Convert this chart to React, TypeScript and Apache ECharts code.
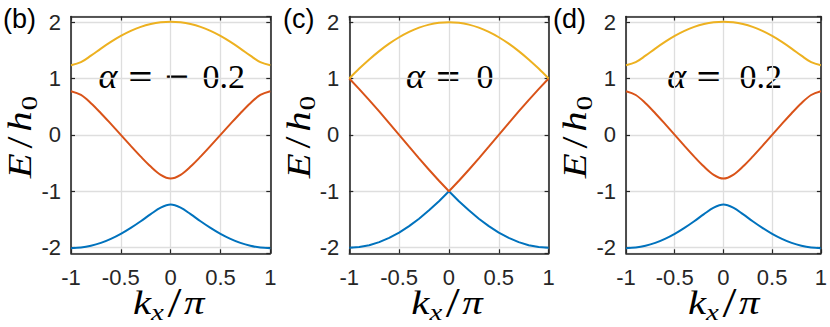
import React, { useEffect, useRef } from "react";
import * as echarts from "echarts";

// ---- data ----
const kx = [-1, -0.9, -0.8, -0.7, -0.6, -0.5, -0.4, -0.3, -0.2, -0.1, 0, 0.1, 0.2, 0.3, 0.4, 0.5, 0.6, 0.7, 0.8, 0.9, 1];

// alpha = -0.2 and alpha = 0.2 (identical spectra)
const lowerBandA02 = [-2.009, -1.998, -1.967, -1.916, -1.844, -1.755, -1.649, -1.531, -1.405, -1.29, -1.235, -1.29, -1.405, -1.531, -1.649, -1.755, -1.844, -1.916, -1.967, -1.998, -2.009];
const middleBandA02 = [0.774, 0.708, 0.562, 0.385, 0.195, 0, -0.195, -0.385, -0.562, -0.708, -0.774, -0.708, -0.562, -0.385, -0.195, 0, 0.195, 0.385, 0.562, 0.708, 0.774];
const upperBandA02 = [1.235, 1.29, 1.405, 1.531, 1.649, 1.755, 1.844, 1.916, 1.967, 1.998, 2.009, 1.998, 1.967, 1.916, 1.844, 1.755, 1.649, 1.531, 1.405, 1.29, 1.235];

// alpha = 0
const lowerBandA0 = [-2, -1.989, -1.956, -1.902, -1.827, -1.732, -1.618, -1.486, -1.338, -1.176, -1, -1.176, -1.338, -1.486, -1.618, -1.732, -1.827, -1.902, -1.956, -1.989, -2];
const middleBandA0 = [1, 0.813, 0.618, 0.416, 0.209, 0, -0.209, -0.416, -0.618, -0.813, -1, -0.813, -0.618, -0.416, -0.209, 0, 0.209, 0.416, 0.618, 0.813, 1];
const upperBandA0 = [1, 1.176, 1.338, 1.486, 1.618, 1.732, 1.827, 1.902, 1.956, 1.989, 2, 1.989, 1.956, 1.902, 1.827, 1.732, 1.618, 1.486, 1.338, 1.176, 1];

const panelTags = ["(b)", "(c)", "(d)"];
const xTickStep = 0.5;
const xRange = [-1, 1];
const yRange = [-2.1, 2.1];

// ---- layout / style ----
const COLORS = ["#0072BD", "#D95319", "#EDB120"];
const AXIS_COLOR = "#262626";
const GRID_TOP = 16.5;
const GRID_H = 236.8;
const GRID_LEFTS = [71, 349.3, 626];
const GRID_W = 199.3;

const SERIF = "'Liberation Serif', 'Times New Roman', serif";
const SANS = "'Liberation Sans', Arial, Helvetica, sans-serif";
const OPSERIF = "'DejaVu Serif', serif";

let measureCtx: CanvasRenderingContext2D | null = null;
function measure(text: string, font: string) {
  if (!measureCtx) measureCtx = document.createElement("canvas").getContext("2d");
  measureCtx!.font = font;
  return measureCtx!.measureText(text).width;
}

type Part = { t: string; size: number; italic?: boolean; family?: string; dy?: number; gap?: number };

function mathGroup(parts: Part[], cx: number, cy: number, targetWidth: number, rotation = 0) {
  const widths = parts.map((p) =>
    measure(p.t, `${p.italic ? "italic " : ""}${p.size}px ${p.family || SERIF}`)
  );
  const total = widths.reduce((a, b) => a + b, 0) + parts.reduce((a, p) => a + (p.gap || 0), 0);
  let x = -total / 2;
  const children: any[] = [];
  parts.forEach((p, i) => {
    x += p.gap || 0;
    children.push({
      type: "text",
      x,
      y: p.dy || 0,
      style: {
        text: p.t,
        fontSize: p.size,
        fontFamily: p.family || SERIF,
        fontStyle: p.italic ? "italic" : "normal",
        fill: "#000",
        textAlign: "left",
        textVerticalAlign: "middle",
      },
    });
    x += widths[i];
  });
  const s = total > 0 ? Math.min(1.2, targetWidth / total) : 1;
  return { type: "group", x: cx, y: cy, rotation, scaleX: s, scaleY: 1, children, silent: true };
}

function centeredGroup(items: { t: string; dx: number; italic?: boolean; family?: string; size: number }[], cx: number, cy: number) {
  return {
    type: "group",
    x: cx,
    y: cy,
    silent: true,
    children: items.map((it) => ({
      type: "text",
      x: it.dx,
      y: 0,
      style: {
        text: it.t,
        fontSize: it.size,
        fontFamily: it.family || SERIF,
        fontStyle: it.italic ? "italic" : "normal",
        fill: "#000",
        textAlign: "center",
        textVerticalAlign: "middle",
      },
    })),
  };
}

export default function App() {
  const ref = useRef<HTMLDivElement>(null);

  useEffect(() => {
    if (!ref.current) return;
    const chart = echarts.init(ref.current, undefined, { renderer: "svg" });

    const panels = [
      { bands: [lowerBandA02, middleBandA02, upperBandA02], smooth: [true, true, true] },
      { bands: [lowerBandA0, middleBandA0, upperBandA0], smooth: [false, false, true] },
      { bands: [lowerBandA02, middleBandA02, upperBandA02], smooth: [true, true, true] },
    ];

    const grids: any[] = [];
    const xAxes: any[] = [];
    const yAxes: any[] = [];
    const series: any[] = [];
    const graphics: any[] = [];

    const lineAxis = { show: true, onZero: false, lineStyle: { color: AXIS_COLOR, width: 1.6 } };
    const tick = { show: true, inside: true, length: 4, lineStyle: { color: AXIS_COLOR, width: 1.2 } };

    panels.forEach((p, i) => {
      const left = GRID_LEFTS[i];
      grids.push({ left, top: GRID_TOP, width: GRID_W, height: GRID_H, show: false });
      const xBase = { type: "value", gridIndex: i, min: xRange[0], max: xRange[1], interval: xTickStep };
      xAxes.push({
        ...xBase,
        position: "bottom",
        axisLine: lineAxis,
        axisTick: tick,
        axisLabel: { show: true, margin: 13, fontSize: 22, fontFamily: SANS, color: AXIS_COLOR },
        splitLine: { show: true, lineStyle: { color: "#dedede", width: 1.3 } },
      });
      xAxes.push({
        ...xBase,
        position: "top",
        axisLine: lineAxis,
        axisTick: tick,
        axisLabel: { show: false },
        splitLine: { show: false },
      });
      const yBase = { type: "value", gridIndex: i, min: yRange[0], max: yRange[1], splitNumber: 4 };
      const fmt = (v: number) => (Math.abs(v - Math.round(v)) < 1e-9 ? String(Math.round(v)) : "");
      yAxes.push({
        ...yBase,
        position: "left",
        axisLine: lineAxis,
        axisTick: tick,
        axisLabel: { show: true, margin: 10, fontSize: 22, fontFamily: SANS, color: AXIS_COLOR, formatter: fmt, showMinLabel: false, showMaxLabel: false },
        splitLine: { show: true, lineStyle: { color: "#dedede", width: 1.3 } },
      });
      yAxes.push({
        ...yBase,
        position: "right",
        axisLine: lineAxis,
        axisTick: tick,
        axisLabel: { show: false },
        splitLine: { show: false },
      });

      p.bands.forEach((band, b) => {
        series.push({
          type: "line",
          xAxisIndex: 2 * i,
          yAxisIndex: 2 * i,
          data: kx.map((x, j) => [x, band[j]]),
          showSymbol: false,
          symbol: "none",
          smooth: p.smooth[b] ? 0.35 : false,
          lineStyle: { color: COLORS[b], width: 2 },
          itemStyle: { color: COLORS[b] },
          silent: true,
          z: 3,
        });
      });

      const cx = left + GRID_W / 2;
      // panel tag
      const tagX = [3, 283, 553][i];
      graphics.push({
        type: "text",
        x: tagX,
        y: 19,
        silent: true,
        style: { text: panelTags[i], fontSize: 27, fontFamily: SANS, fill: "#000", textAlign: "left", textVerticalAlign: "middle" },
      });
      // alpha annotation
      const aY = 76;
      if (i === 0) {
        graphics.push(
          centeredGroup(
            [
              { t: "α", dx: -62.8, italic: true, size: 36 },
              { t: "=", dx: -30.3, family: OPSERIF, size: 32 },
              { t: "−", dx: 6.5, family: OPSERIF, size: 32 },
              { t: "0.2", dx: 53.1, size: 34 },
            ],
            cx,
            aY
          )
        );
      } else if (i === 1) {
        graphics.push(
          centeredGroup(
            [
              { t: "α", dx: -33.5, italic: true, size: 36 },
              { t: "=", dx: -0.8, family: OPSERIF, size: 32 },
              { t: "0", dx: 36, size: 34 },
            ],
            cx,
            aY
          )
        );
      } else {
        graphics.push(
          centeredGroup(
            [
              { t: "α", dx: -49, italic: true, size: 36 },
              { t: "=", dx: -17, family: OPSERIF, size: 32 },
              { t: "0.2", dx: 35, size: 34 },
            ],
            cx,
            aY
          )
        );
      }
      // x axis name k_x / pi
      graphics.push(
        mathGroup(
          [
            { t: "k", size: 34, italic: true },
            { t: "x", size: 24, italic: true, dy: 8.5, gap: 0 },
            { t: "/", size: 42, gap: 3 },
            { t: "π", size: 34, italic: true, gap: 2 },
          ],
          cx - 2,
          303,
          74
        )
      );
      // y axis name E / h_0 (rotated)
      graphics.push(
        mathGroup(
          [
            { t: "E", size: 34, italic: true },
            { t: "/", size: 36, gap: 4 },
            { t: "h", size: 34, italic: true, gap: 4 },
            { t: "0", size: 24, dy: 8.5, gap: 1 },
          ],
          left - 51,
          137,
          88,
          Math.PI / 2
        )
      );
    });

    chart.setOption({
      animation: false,
      backgroundColor: "#ffffff",
      grid: grids,
      xAxis: xAxes,
      yAxis: yAxes,
      series,
      graphic: graphics,
    });

    return () => chart.dispose();
  }, []);

  return <div ref={ref} style={{ position: "absolute", left: 0, top: 0, width: 830, height: 327, background: "#fff" }} />;
}
